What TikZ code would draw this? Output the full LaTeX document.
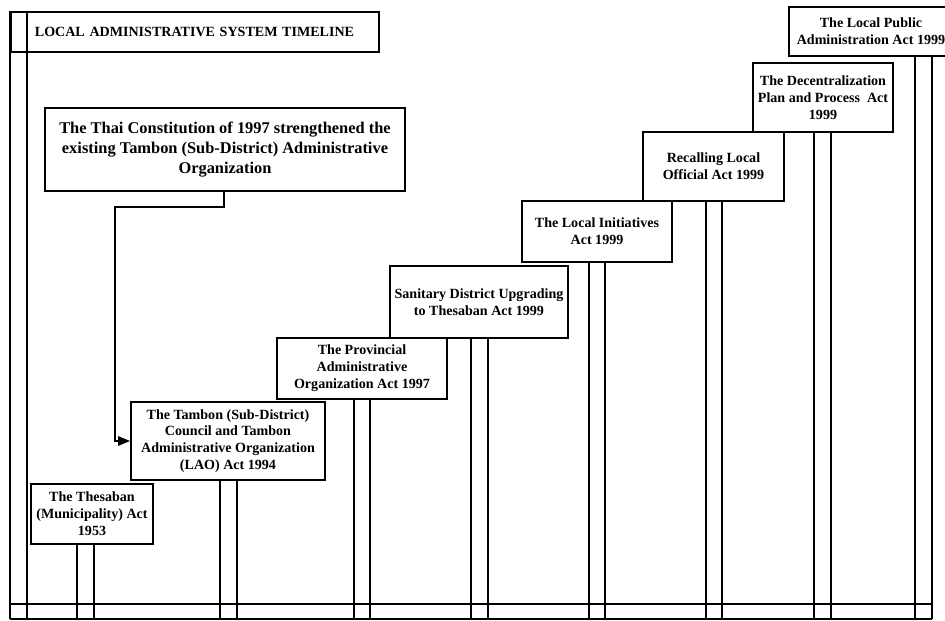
\documentclass[tikz,border=0pt]{standalone}
\usepackage{fontspec}
\setmainfont{Liberation Serif}
\usetikzlibrary{arrows.meta}

\begin{document}
\begin{tikzpicture}[x=0.03cm,y=-0.03cm,
    actbox/.style={draw,line width=1.5pt,align=center,inner sep=0pt,font=\bfseries\fontsize{12}{14.4}\selectfont},
    pillar/.style={line width=1.5pt}]
      \useasboundingbox (0,0) rectangle (945,621);
      \clip (0,0) rectangle (945,621);
      % boxes
      \node[actbox,anchor=west,align=left,text width=9.9cm,inner xsep=0.57cm,minimum height=1.2cm] (title) at (10,32) {\hspace*{0.15cm}LOCAL ADMINISTRATIVE SYSTEM TIMELINE};
      \node[actbox,minimum width=10.8cm,minimum height=2.49cm,font=\bfseries\fontsize{14}{17.4}\selectfont] (constitution) at (225,149.5) {The Thai Constitution of 1997 strengthened the\\existing Tambon (Sub-District) Administrative\\Organization};
      \node[actbox,minimum width=3.66cm,minimum height=1.8cm] (thesaban) at (92,514) {The Thesaban\\(Municipality) Act\\1953};
      \node[actbox,minimum width=5.82cm,minimum height=2.34cm] (tambon) at (228,441) {The Tambon (Sub-District)\\Council and Tambon\\Administrative Organization\\(LAO) Act 1994};
      \node[actbox,minimum width=5.1cm,minimum height=1.83cm] (provincial) at (362,368.5) {The Provincial\\Administrative\\Organization Act 1997};
      \node[actbox,minimum width=5.34cm,minimum height=2.16cm] (sanitary) at (479,302) {Sanitary District Upgrading\\to Thesaban Act 1999};
      \node[actbox,minimum width=4.5cm,minimum height=1.83cm] (localinit) at (597,231.5) {The Local Initiatives\\Act 1999};
      \node[actbox,minimum width=4.23cm,minimum height=2.07cm] (recalling) at (713.5,166.5) {Recalling Local\\Official Act 1999};
      \node[actbox,minimum width=4.2cm,minimum height=2.07cm] (decentral) at (823,97.5) {The Decentralization\\Plan and Process~ Act\\1999};
      \node[actbox,minimum width=4.92cm,minimum height=1.47cm] (localpublic) at (871,31.5) {The Local Public\\Administration Act 1999};
      % time axis
      \draw[pillar] (title.north west) -- (10,619);
      \draw[pillar] (title.north west -| 27,0) -- (27,619);
      \draw[pillar] (10,604) -- (932,604);
      \draw[pillar] (10,619) -- (932,619);
      \foreach \b/\xa/\xb in {thesaban/77/94,tambon/220/237,provincial/354/370,sanitary/471/488,localinit/589/605,recalling/706/722,decentral/814/831,localpublic/915/932}{
        \draw[pillar] (\b.south -| \xa,0) -- (\xa,619);
        \draw[pillar] (\b.south -| \xb,0) -- (\xb,619);
      }
      \draw[pillar,-{Triangle[length=3.6mm,width=2.8mm]}] (constitution.south -| 224,0) -- (224,207) -- (115,207) |- (tambon.west);
\end{tikzpicture}
\end{document}
